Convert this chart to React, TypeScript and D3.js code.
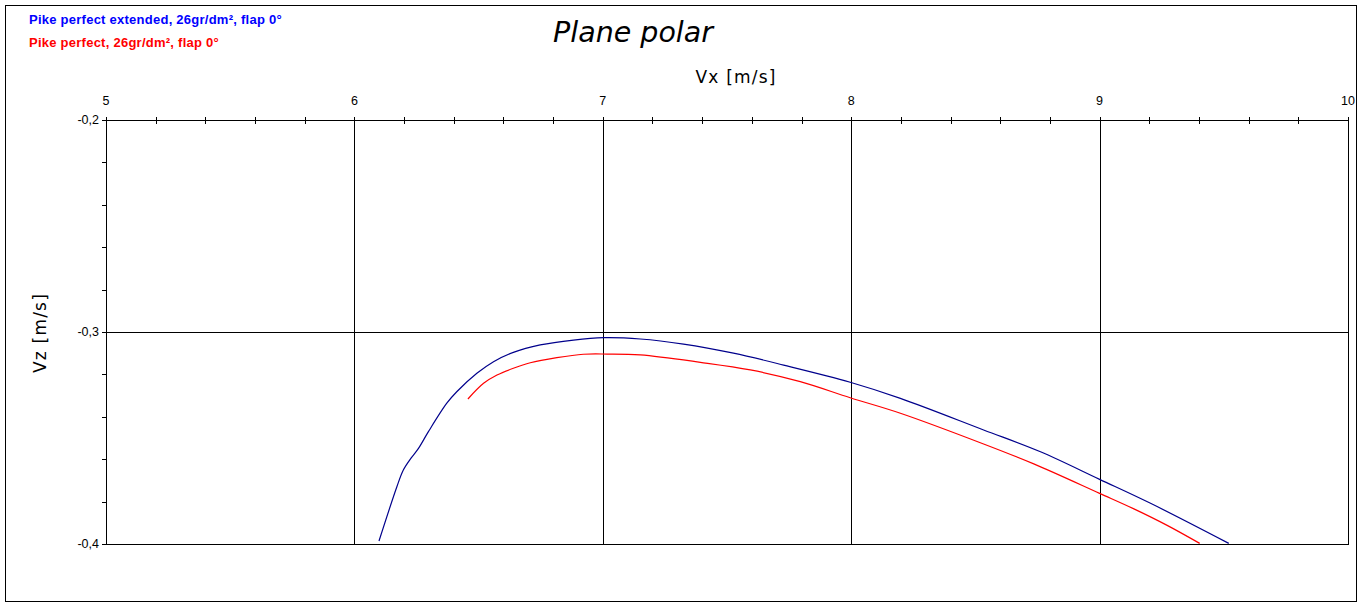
import React from "react";
import * as d3 from "d3";

const title = "Plane polar";
const xLabel = "Vx [m/s]";
const yLabel = "Vz [m/s]";
const seriesNames = [
  "Pike perfect extended, 26gr/dm², flap 0°",
  "Pike perfect, 26gr/dm², flap 0°",
];
const seriesColors = ["#00008c", "#ff0000"];
const legendColors = ["#0000ff", "#ff0000"];

const xTicks = [5, 6, 7, 8, 9, 10];
const yTicks = [-0.2, -0.3, -0.4];
const yTickLabels = ["-0,2", "-0,3", "-0,4"];

// Pike perfect extended: [Vx, Vz]
const blueVx = [6.099, 6.171, 6.197, 6.228, 6.258, 6.298, 6.372, 6.412, 6.493, 6.56, 6.64, 6.748, 6.882, 7.003, 7.151, 7.325, 7.526, 7.728, 7.996, 8.198, 8.533, 8.762, 9.0, 9.205, 9.52];
const blueVz = [-0.3986, -0.373, -0.3651, -0.3595, -0.3549, -0.347, -0.3336, -0.3282, -0.3195, -0.314, -0.3096, -0.3061, -0.3038, -0.3027, -0.3033, -0.3057, -0.31, -0.3156, -0.3237, -0.3313, -0.3462, -0.3565, -0.3695, -0.3808, -0.3997];

// Pike perfect
const redVx = [6.457, 6.52, 6.574, 6.64, 6.708, 6.815, 6.922, 7.017, 7.151, 7.393, 7.594, 7.795, 7.996, 8.198, 8.533, 8.735, 9.0, 9.136, 9.272, 9.403];
const redVz = [-0.3316, -0.3242, -0.3203, -0.3171, -0.3145, -0.3121, -0.3105, -0.3104, -0.3108, -0.3143, -0.3179, -0.3234, -0.331, -0.3383, -0.3528, -0.3622, -0.3761, -0.3833, -0.3912, -0.3997];

const W = 1362;
const H = 606;
const L = 106, R = 1348, T = 120, B = 544;

export default function App() {
  const x = d3.scaleLinear().domain([5, 10]).range([L, R]);
  const y = d3.scaleLinear().domain([-0.2, -0.4]).range([T, B]);
  const px = (v: number) => Math.round(x(v)) + 0.5;
  const py = (v: number) => Math.round(y(v)) + 0.5;

  const line = d3
    .line<[number, number]>()
    .x((d) => x(d[0]))
    .y((d) => y(d[1]))
    .curve(d3.curveCatmullRom.alpha(0.5));

  const blue: [number, number][] = blueVx.map((v, i) => [v, blueVz[i]]);
  const red: [number, number][] = redVx.map((v, i) => [v, redVz[i]]);

  const minorX = d3.range(0, 26).map((i) => 5 + i * 0.2);
  const minorY = d3.range(0, 11).map((i) => -0.2 - i * 0.02);

  const sans = "'Liberation Sans', Arial, sans-serif";
  const dv = "'DejaVu Sans', Verdana, sans-serif";

  return (
    <svg
      width={W}
      height={H}
      style={{ position: "absolute", left: 0, top: 0, background: "#fff" }}
    >
      <rect x={5.5} y={5.5} width={1351} height={596} fill="#fff" stroke="#000" strokeWidth={1} />

      {/* legend */}
      {seriesNames.map((n, i) => (
        <text key={n} x={29} y={24 + i * 23} fill={legendColors[i]} fontFamily={sans} fontWeight="bold" fontSize={13} letterSpacing={0.25}>
          {n}
        </text>
      ))}

      {/* title */}
      <text x={633} y={42} textAnchor="middle" fontFamily={dv} fontStyle="italic" fontSize={28.5} fill="#000">
        {title}
      </text>
      <text x={736} y={83} textAnchor="middle" fontFamily={dv} fontSize={17} letterSpacing={1.2} fill="#000">
        {xLabel}
      </text>
      <text transform={`translate(46,333) rotate(-90)`} textAnchor="middle" fontFamily={dv} fontSize={17} letterSpacing={1.2} fill="#000">
        {yLabel}
      </text>

      {/* gridlines & frame */}
      <g stroke="#000" strokeWidth={1} shapeRendering="crispEdges">
        {xTicks.map((t) => (
          <line key={"gx" + t} x1={px(t)} x2={px(t)} y1={T - 3} y2={B + 0.5} />
        ))}
        {yTicks.map((t) => (
          <line key={"gy" + t} x1={L - 4} x2={R + 0.5} y1={py(t)} y2={py(t)} />
        ))}
        {minorX.map((t) => (
          <line key={"mx" + t.toFixed(1)} x1={px(t)} x2={px(t)} y1={T - 3} y2={T + 3.5} />
        ))}
        {minorY.map((t) => (
          <line key={"my" + t.toFixed(2)} x1={L - 4} x2={L + 0.5} y1={py(t)} y2={py(t)} />
        ))}
      </g>

      {/* tick labels */}
      {xTicks.map((t) => (
        <text key={"xl" + t} x={x(t)} y={105} textAnchor="middle" fontFamily={sans} fontSize={12.5} fill="#000">
          {t}
        </text>
      ))}
      {yTicks.map((t, i) => (
        <text key={"yl" + t} x={99} y={y(t) + 4} textAnchor="end" fontFamily={sans} fontSize={12.5} fill="#000">
          {yTickLabels[i]}
        </text>
      ))}

      <defs>
        <clipPath id="plotclip">
          <rect x={L} y={T} width={R - L} height={B - T} />
        </clipPath>
      </defs>
      <g clipPath="url(#plotclip)" fill="none" strokeWidth={1.2}>
        <path d={line(blue) || ""} stroke={seriesColors[0]} />
        <path d={line(red) || ""} stroke={seriesColors[1]} />
      </g>
    </svg>
  );
}
